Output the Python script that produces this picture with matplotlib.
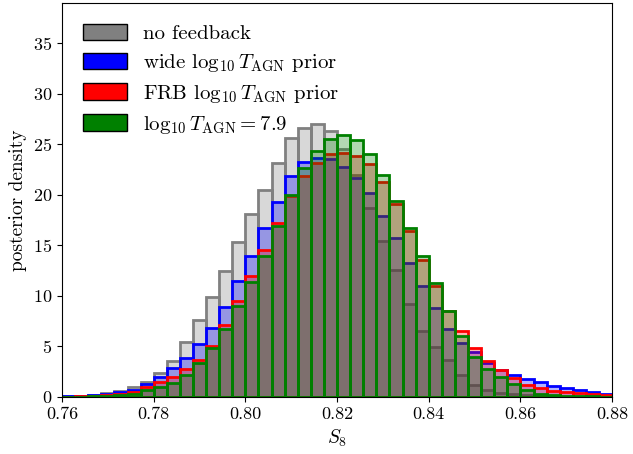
import numpy as np
import matplotlib
matplotlib.use("Agg")
import matplotlib.pyplot as plt
from matplotlib.patches import Patch

plt.rcParams['font.family'] = 'serif'
plt.rcParams['font.serif'] = ['cmr10']
plt.rcParams['mathtext.fontset'] = 'cm'
plt.rcParams['axes.formatter.use_mathtext'] = True

# bins of S8 (42 bins between 0.76 and 0.88)
edges = np.linspace(0.76, 0.88, 43)
centers = 0.5 * (edges[1:] + edges[:-1])

no_feedback = [0.05, 0.1, 0.2, 0.4, 0.55, 0.95, 1.5, 2.4, 3.6, 5.45,
               7.65, 9.85, 12.45, 15.3, 18.1, 20.45, 23.2, 25.6, 26.6, 27.0,
               26.3, 24.5, 22.0, 18.7, 15.4, 12.6, 9.2, 6.5, 4.9, 3.7,
               2.2, 1.2, 0.7, 0.4, 0.25, 0.15, 0.1, 0.06, 0.04, 0.02,
               0.01, 0.01]
wide_prior = [0.05, 0.12, 0.2, 0.3, 0.45, 0.7, 1.25, 2.0, 2.9, 3.9,
              5.25, 6.8, 8.9, 11.45, 14.0, 16.7, 19.35, 21.85, 23.3, 23.7,
              23.6, 22.75, 21.7, 20.2, 17.9, 15.7, 13.3, 11.0, 8.8, 6.7,
              5.3, 4.5, 3.35, 2.7, 2.15, 1.8, 1.45, 1.05, 0.85, 0.7,
              0.5, 0.3]
frb_prior = [0.03, 0.06, 0.1, 0.17, 0.28, 0.5, 0.95, 1.45, 2.0, 2.75,
             3.68, 5.07, 7.15, 9.47, 12.0, 14.5, 17.25, 19.9, 21.9, 23.15,
             24.1, 24.2, 23.9, 23.1, 21.3, 19.1, 16.4, 13.6, 11.0, 8.5,
             6.55, 4.8, 3.6, 2.7, 1.85, 1.2, 0.86, 0.63, 0.46, 0.36,
             0.26, 0.16]
fixed_agn = [0.02, 0.03, 0.05, 0.08, 0.15, 0.3, 0.7, 1.0, 1.36, 2.2,
             3.32, 4.83, 6.72, 9.0, 11.4, 14.0, 16.95, 19.95, 22.65, 24.35,
             25.5, 25.96, 25.4, 24.1, 22.0, 19.4, 16.7, 14.0, 11.3, 8.5,
             6.0, 3.95, 2.8, 1.95, 1.25, 0.7, 0.3, 0.2, 0.13, 0.08,
             0.05, 0.03]

series = [no_feedback, wide_prior, frb_prior, fixed_agn]
colors = ['gray', 'blue', 'red', 'green']
labels = ['no feedback',
          r'wide $\log_{10} T_{\rm AGN}$ prior',
          r'FRB $\log_{10} T_{\rm AGN}$ prior',
          r'$\log_{10} T_{\rm AGN} = 7.9$']

fig = plt.figure(figsize=(6.33, 4.54), dpi=100)
ax = fig.add_axes([0.098, 0.1256, 0.869, 0.8678])

for vals, c in zip(series, colors):
    ax.hist(centers, bins=edges, weights=vals, histtype='bar',
            facecolor=matplotlib.colors.to_rgba(c, 0.3), edgecolor=c,
            linewidth=2)

ax.set_xlim(0.76, 0.88)
ax.set_ylim(0, 39)
ax.set_xticks(np.arange(0.76, 0.8801, 0.02))
ax.set_xticklabels(['%.2f' % t for t in np.arange(0.76, 0.8801, 0.02)])
ax.set_yticks(np.arange(0, 36, 5))
ax.tick_params(labelsize=13)
ax.set_xlabel(r'$S_8$', fontsize=14)
ax.set_ylabel('posterior density', fontsize=14)

handles = [Patch(facecolor=c, edgecolor='black') for c in colors]
ax.legend(handles, labels, loc='upper left', frameon=False, fontsize=15,
          handlelength=2.1, handleheight=0.85, labelspacing=0.42,
          borderaxespad=0.6)

fig.savefig('out.png', dpi=100)
